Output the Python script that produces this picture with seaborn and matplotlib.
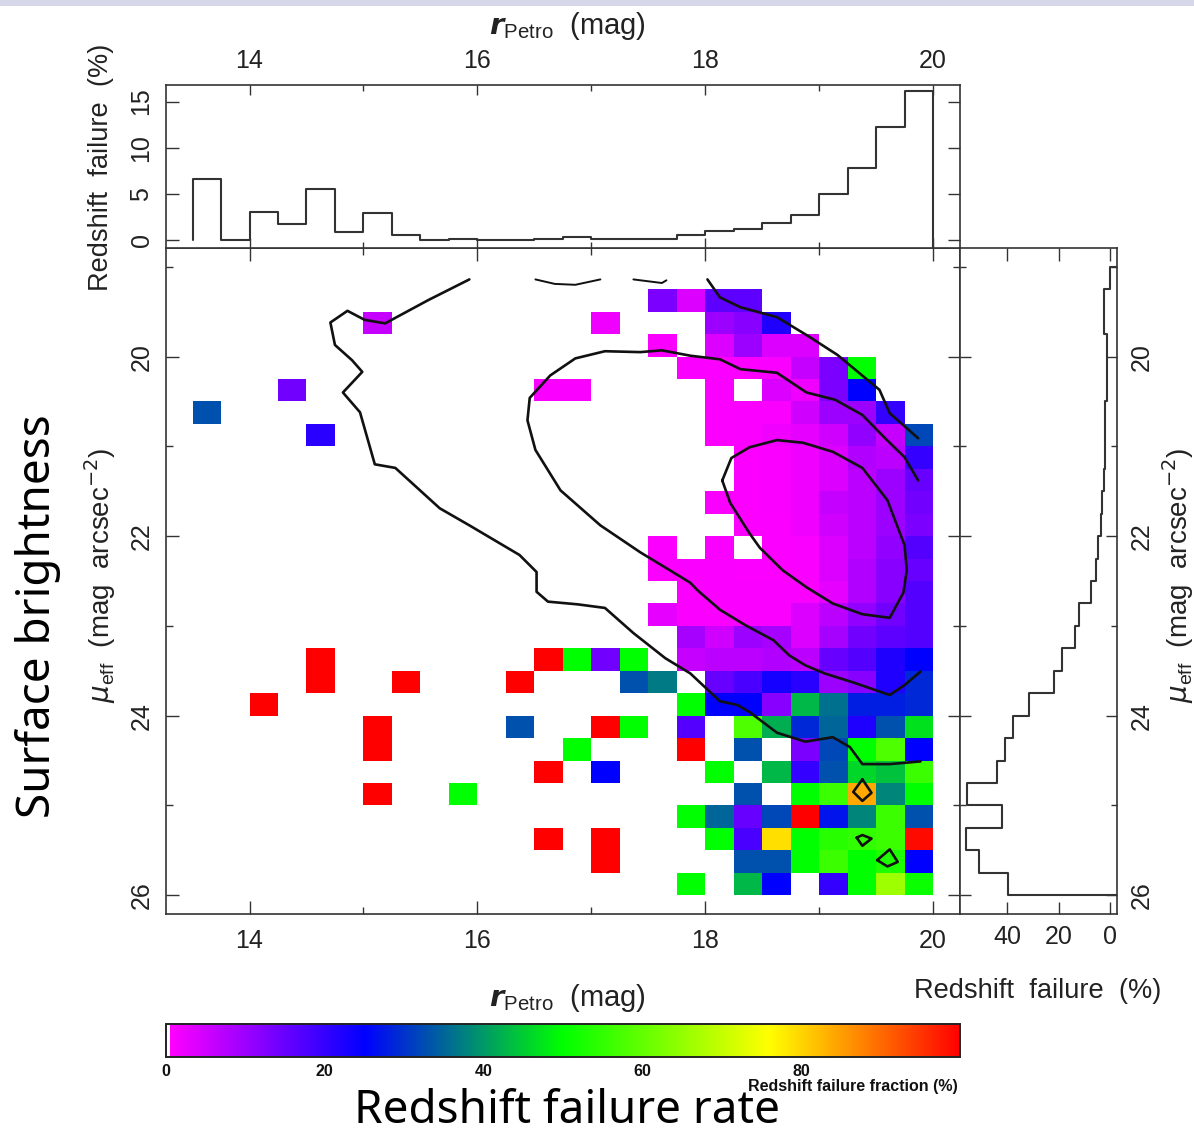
import numpy as np
import matplotlib
matplotlib.use("Agg")
from matplotlib import pyplot as plt
from matplotlib.colors import LinearSegmentedColormap
from matplotlib.patches import Rectangle
import seaborn as sns

_ = np.nan

# failure rate per cell, rows are mu_eff 19.0..25.75, columns r_Petro 13.5..19.75 (0.25 mag bins)
fail_rate = [
    [_]*26,
    [_,_,_,_,_,_,_,_,_,_,_,_,_,_,_,_,13,4,16,16,_,_,_,_,_,_],
    [_,_,_,_,_,_,6,_,_,_,_,_,_,_,2,_,_,_,10,12,22,_,_,_,_,_],
    [_,_,_,_,_,_,_,_,_,_,_,_,_,_,_,_,1,_,4,10,4,4,_,_,_,_],
    [_,_,_,_,_,_,_,_,_,_,_,_,_,_,_,_,_,1,.7,.7,1,6,13,50,_,_],
    [_,_,_,14,_,_,_,_,_,_,_,_,1,1,_,_,_,_,1,_,4,2,13,25,_,_],
    [33,_,_,_,_,_,_,_,_,_,_,_,_,_,_,_,_,_,.7,1,1,5,10,10,20,_],
    [_,_,_,_,21,_,_,_,_,_,_,_,_,_,_,_,_,_,.7,1,2,3,5,11,6,32],
    [_,_,_,_,_,_,_,_,_,_,_,_,_,_,_,_,_,_,_,.7,1,2,4,8,7,20],
    [_,_,_,_,_,_,_,_,_,_,_,_,_,_,_,_,_,_,_,.7,1,2,4,7,10,15],
    [_,_,_,_,_,_,_,_,_,_,_,_,_,_,_,_,_,_,1,.7,1,2,6,7,10,14],
    [_,_,_,_,_,_,_,_,_,_,_,_,_,_,_,_,_,_,_,.7,.7,2,5,7,10,13],
    [_,_,_,_,_,_,_,_,_,_,_,_,_,_,_,_,.7,_,1,_,.7,1,4,7,11,17],
    [_,_,_,_,_,_,_,_,_,_,_,_,_,_,_,_,.7,1,1,.7,.7,1,4,8,12,15],
    [_,_,_,_,_,_,_,_,_,_,_,_,_,_,_,_,_,1,1,1,1,1,3,8,12,17],
    [_,_,_,_,_,_,_,_,_,_,_,_,_,_,_,_,3,1,1,1,1,4,7,11,14,17],
    [_,_,_,_,_,_,_,_,_,_,_,_,_,_,_,_,_,9,5,10,9,4,9,14,16,17],
    [_,_,_,_,100,_,_,_,_,_,_,_,100,50,14,50,_,6,7,7,8,7,15,17,22,25],
    [_,_,_,_,100,_,_,100,_,_,_,100,_,_,_,33,37,_,15,18,23,21,10,12,22,29],
    [_,_,100,_,_,_,_,_,_,_,_,_,_,_,_,_,_,50,25,25,12,43,36,28,28,29],
    [_,_,_,_,_,_,100,_,_,_,_,33,_,_,100,50,_,17,_,58,42,29,35,22,33,47],
    [_,_,_,_,_,_,100,_,_,_,_,_,_,50,_,_,_,100,_,33,_,13,32,50,58,25],
    [_,_,_,_,_,_,_,_,_,_,_,_,100,_,25,_,_,_,50,_,43,20,33,46,44,56],
    [_,_,_,_,_,_,100,_,_,50,_,_,_,_,_,_,_,_,_,33,_,50,56,84,38,50],
    [_,_,_,_,_,_,_,_,_,_,_,_,_,_,_,_,_,50,35,15,32,100,27,38,56,33],
    [_,_,_,_,_,_,_,_,_,_,_,_,100,_,100,_,_,_,50,18,79,50,54,55,56,99],
    [_,_,_,_,_,_,_,_,_,_,_,_,_,_,100,_,_,_,_,33,33,50,56,50,53,25],
    [_,_,_,_,_,_,_,_,_,_,_,_,_,_,_,_,_,50,_,43,25,_,20,50,66,51],
]

# marginal failure rates
fail_by_mag = [6.6, 0, 3.05, 1.75, 5.5, 0.9, 2.9, 0.5, 0, 0.1, 0.05, 0, 0.15, 0.3, 0.15,
               0.15, 0.15, 0.55, 0.95, 1.25, 1.8, 2.7, 4.95, 7.8, 12.2, 16.1]
fail_by_mu = [0, 2.3, 2.3, 1.3, 1.3, 1.3, 1.8, 1.8, 1.8, 2.3, 3, 3.6, 4.8, 5.6, 7.4, 12, 13.6,
              18.7, 22, 31.4, 37.9, 41, 44, 55.5, 42, 56, 51, 39.6]

# contours as (r_Petro, mu_eff)
outer_r = [15.93, 15.57, 15.19, 15.01, 14.86, 14.71, 14.75, 14.90, 14.99, 14.82, 14.97, 15.10, 15.28,
           15.67, 15.93, 16.37, 16.52, 16.52, 16.62, 16.88, 17.12, 17.37, 17.65, 17.87, 18.13, 18.28,
           18.39, 18.63, 18.88, 19.12, 19.27, 19.38, 19.62, 19.89]
outer_mu = [19.14, 19.37, 19.63, 19.59, 19.49, 19.62, 19.87, 20.04, 20.17, 20.40, 20.62, 21.20, 21.24,
            21.69, 21.88, 22.21, 22.40, 22.62, 22.73, 22.76, 22.80, 23.08, 23.36, 23.53, 23.84, 23.88,
            23.96, 24.19, 24.29, 24.24, 24.35, 24.54, 24.54, 24.51]
middle_r = [19.87, 19.75, 19.58, 19.38, 19.14, 18.89, 18.63, 18.31, 18.13, 17.87, 17.62, 17.43, 17.12,
            16.86, 16.64, 16.46, 16.44, 16.51, 16.73, 17.08, 17.43, 17.69, 17.87, 17.93, 18.13, 18.35,
            18.60, 18.74, 18.88, 19.05, 19.30, 19.62, 19.75, 19.89]
middle_mu = [21.38, 21.12, 20.91, 20.65, 20.48, 20.40, 20.18, 20.14, 20.03, 19.99, 19.93, 19.95, 19.94,
             20.02, 20.21, 20.46, 20.71, 21.04, 21.49, 21.88, 22.18, 22.38, 22.52, 22.60, 22.82, 22.99,
             23.16, 23.33, 23.44, 23.53, 23.63, 23.77, 23.66, 23.51]
inner_r = [18.15, 18.23, 18.39, 18.63, 18.86, 19.12, 19.38, 19.60, 19.75, 19.77, 19.74, 19.62, 19.38,
           19.12, 18.89, 18.68, 18.48, 18.39, 18.22, 18.15]
inner_mu = [21.38, 21.13, 21.01, 20.93, 20.96, 21.06, 21.24, 21.60, 22.10, 22.38, 22.63, 22.91, 22.87,
            22.75, 22.57, 22.38, 22.13, 21.97, 21.63, 21.38]
upper_r = [18.02, 18.13, 18.31, 18.63, 18.89, 19.16, 19.53, 19.62, 19.87]
upper_mu = [19.14, 19.34, 19.45, 19.56, 19.76, 19.98, 20.37, 20.63, 20.91]
dash1_r = [16.51, 16.68, 16.86, 17.08]
dash1_mu = [19.14, 19.19, 19.20, 19.14]
dash2_r = [17.37, 17.62, 17.66]
dash2_mu = [19.14, 19.18, 19.15]
island1_r = [19.38, 19.30, 19.38, 19.46, 19.38]
island1_mu = [24.71, 24.85, 24.95, 24.86, 24.71]
island2_r = [19.33, 19.38, 19.46, 19.38, 19.33]
island2_mu = [25.36, 25.45, 25.37, 25.33, 25.36]
island3_r = [19.51, 19.62, 19.69, 19.60, 19.51]
island3_mu = [25.61, 25.49, 25.63, 25.68, 25.61]

mag_ticks = [14, 16, 18, 20]
mag_minor = [15, 17, 19]
mu_ticks = [20, 22, 24, 26]
mu_minor = [19, 21, 23, 25]

W, H = 1194, 1135
INK = "#333333"
TXT = "#222222"


def box(left, top, right, bottom):
    """Pixel box of the reference to figure fractions."""
    return [left / W, 1 - bottom / H, (right - left) / W, (bottom - top) / H]


def col(x):
    return (np.asarray(x, dtype=float) - 13.5) / 0.25


def row(y):
    return (np.asarray(y, dtype=float) - 19.0) / 0.25


def style_spines(ax):
    for s in ax.spines.values():
        s.set_visible(True)
        s.set_color(INK)
        s.set_linewidth(1.2)


def label(x, y, s, **kw):
    kw.setdefault("ha", "center")
    kw.setdefault("va", "center")
    kw.setdefault("color", TXT)
    fig.text(x / W, 1 - y / H, s, **kw)


sns.set_theme(style="white")
plt.rcParams["font.family"] = ["Liberation Sans", "DejaVu Sans"]
plt.rcParams["mathtext.fontset"] = "dejavusans"
plt.rcParams["xtick.direction"] = "in"
plt.rcParams["ytick.direction"] = "in"

fig = plt.figure(figsize=(W / 100, H / 100), dpi=100)
fig.patches.append(Rectangle((0, 1 - 6 / H), 1, 6 / H, transform=fig.transFigure,
                             color="#d6d8ea", lw=0))

ax_main = fig.add_axes(box(166, 248, 960, 914))
ax_top = fig.add_axes(box(166, 85, 960, 248))
ax_right = fig.add_axes(box(960, 248, 1117, 914))
ax_bar = fig.add_axes(box(166, 1024, 960, 1057))

cmap = LinearSegmentedColormap.from_list(
    "failure",
    [(0, "white"), (0.004, "white"), (0.0041, "#ff00ff"), (0.25, "#0000ff"),
     (0.5, "#00ff00"), (0.76, "#ffff00"), (1, "#ff0000")],
    N=1024,
)

sns.heatmap(np.array(fail_rate, dtype=float), ax=ax_main, cmap=cmap, vmin=0, vmax=100,
            cbar_ax=ax_bar, cbar_kws={"orientation": "horizontal"},
            xticklabels=False, yticklabels=False)

# contours
for cx, cy, lw in [(outer_r, outer_mu, 1.9), (middle_r, middle_mu, 1.9), (inner_r, inner_mu, 1.9),
                   (upper_r, upper_mu, 1.9), (dash1_r, dash1_mu, 1.4), (dash2_r, dash2_mu, 1.4),
                   (island1_r, island1_mu, 1.9), (island2_r, island2_mu, 1.9),
                   (island3_r, island3_mu, 1.9)]:
    ax_main.plot(col(cx), row(cy), color="#111111", lw=lw)

ax_main.set_xlim(col(13.267), col(20.237))
ax_main.set_ylim(row(26.21), row(18.79))
ax_main.set_xticks(col(mag_ticks), [str(t) for t in mag_ticks])
ax_main.set_xticks(col(mag_minor), minor=True)
ax_main.set_yticks(row(mu_ticks), [str(t) for t in mu_ticks], rotation=90, va="center")
ax_main.set_yticks(row(mu_minor), minor=True)
ax_main.tick_params(axis="x", which="major", length=9.5, width=1, color=INK, top=True, bottom=True,
                    labelsize=18, labelcolor=TXT, pad=11)
ax_main.tick_params(axis="x", which="minor", length=5, width=1, color=INK, top=True, bottom=True)
ax_main.tick_params(axis="y", which="major", length=9, width=1, color=INK, left=True, right=True,
                    labelsize=18, labelcolor=TXT, pad=9)
ax_main.tick_params(axis="y", which="minor", length=5, width=1, color=INK, left=True, right=True)
style_spines(ax_main)

# top histogram
mag_edges = list(np.arange(13.5, 20.01, 0.25))
top_low = -0.86
sns.lineplot(x=[13.5] + mag_edges, y=[0] + fail_by_mag + [top_low], ax=ax_top, color=INK, lw=1.5,
             estimator=None, sort=False, drawstyle="steps-post")
ax_top.set_xlim(13.267, 20.237)
ax_top.set_ylim(top_low, 16.8)
ax_top.set_xticks(mag_ticks, [str(t) for t in mag_ticks])
ax_top.set_xticks(mag_minor, minor=True)
ax_top.set_yticks([0, 5, 10, 15], ["0", "5", "10", "15"], rotation=90, va="center")
ax_top.xaxis.tick_top()
ax_top.tick_params(axis="x", which="major", length=7, width=1, color=INK, top=True, bottom=True,
                   labelsize=18, labelcolor=TXT, pad=9)
ax_top.tick_params(axis="x", which="minor", length=4, width=1, color=INK, top=True, bottom=True)
ax_top.tick_params(axis="y", length=9, width=1, color=INK, left=True, right=True,
                   labelsize=18, labelcolor=TXT, pad=9)
ax_top.set_xlabel("")
ax_top.set_ylabel("")
style_spines(ax_top)

# right histogram
mu_edges = list(np.arange(19.0, 26.01, 0.25))
right_low = -2.7
sns.lineplot(x=[right_low] + fail_by_mu + [right_low], y=mu_edges + [26.0], ax=ax_right, color=INK, lw=1.5,
             estimator=None, sort=False, orient="y", drawstyle="steps-post")
ax_right.set_xlim(58.4, right_low)
ax_right.set_ylim(26.21, 18.79)
ax_right.set_xticks([0, 20, 40], ["0", "20", "40"])
ax_right.set_yticks(mu_ticks, [str(t) for t in mu_ticks], rotation=90, va="center")
ax_right.set_yticks(mu_minor, minor=True)
ax_right.yaxis.tick_right()
ax_right.tick_params(axis="x", length=9, width=1, color=INK, top=True, bottom=True,
                     labelsize=18, labelcolor=TXT, pad=8)
ax_right.tick_params(axis="y", which="major", length=8, width=1, color=INK, left=True, right=True,
                     labelsize=18, labelcolor=TXT, pad=9)
ax_right.tick_params(axis="y", which="minor", length=4, width=1, color=INK, left=True, right=True)
ax_right.set_xlabel("")
ax_right.set_ylabel("")
style_spines(ax_right)

# colour bar
cbar = ax_main.collections[0].colorbar
cbar.set_ticks([0, 20, 40, 60, 80], labels=["0", "20", "40", "60", "80"])
cbar.ax.set_xticks([10, 30, 50, 70, 90], minor=True)
cbar.ax.tick_params(axis="x", which="both", length=4, width=1, color="#111111", top=True, bottom=True,
                    direction="in", labelsize=11.5, labelcolor="#111111", pad=5)
for t in cbar.ax.get_xticklabels():
    t.set_fontweight("bold")
cbar.outline.set_visible(True)
cbar.outline.set_edgecolor("#222222")
cbar.outline.set_linewidth(1.4)

r_label = r"$\mathbfit{r}_{\mathregular{Petro}}$  (mag)"
mu_label = r"$\mu_{\mathregular{eff}}$  (mag  arcsec$^{-2}$)"
label(567, 26, r_label, fontsize=21)
label(567, 998, r_label, fontsize=21)
label(101, 167, "Redshift  failure  (%)", fontsize=19.6, rotation=90)
label(1038, 991, "Redshift  failure  (%)", fontsize=19.6)
label(100, 575, mu_label, fontsize=20, rotation=90)
label(1178, 575, mu_label, fontsize=20, rotation=90)
label(958, 1087, "Redshift failure fraction (%)", fontsize=11.5, ha="right", fontweight="bold", color="#111111")
label(38, 616, "Surface brightness", fontsize=33, rotation=90, family="Noto Sans", color="black")
label(567, 1111, "Redshift failure rate", fontsize=33, family="Noto Sans", color="black")

fig.savefig("out.png", dpi=100)
